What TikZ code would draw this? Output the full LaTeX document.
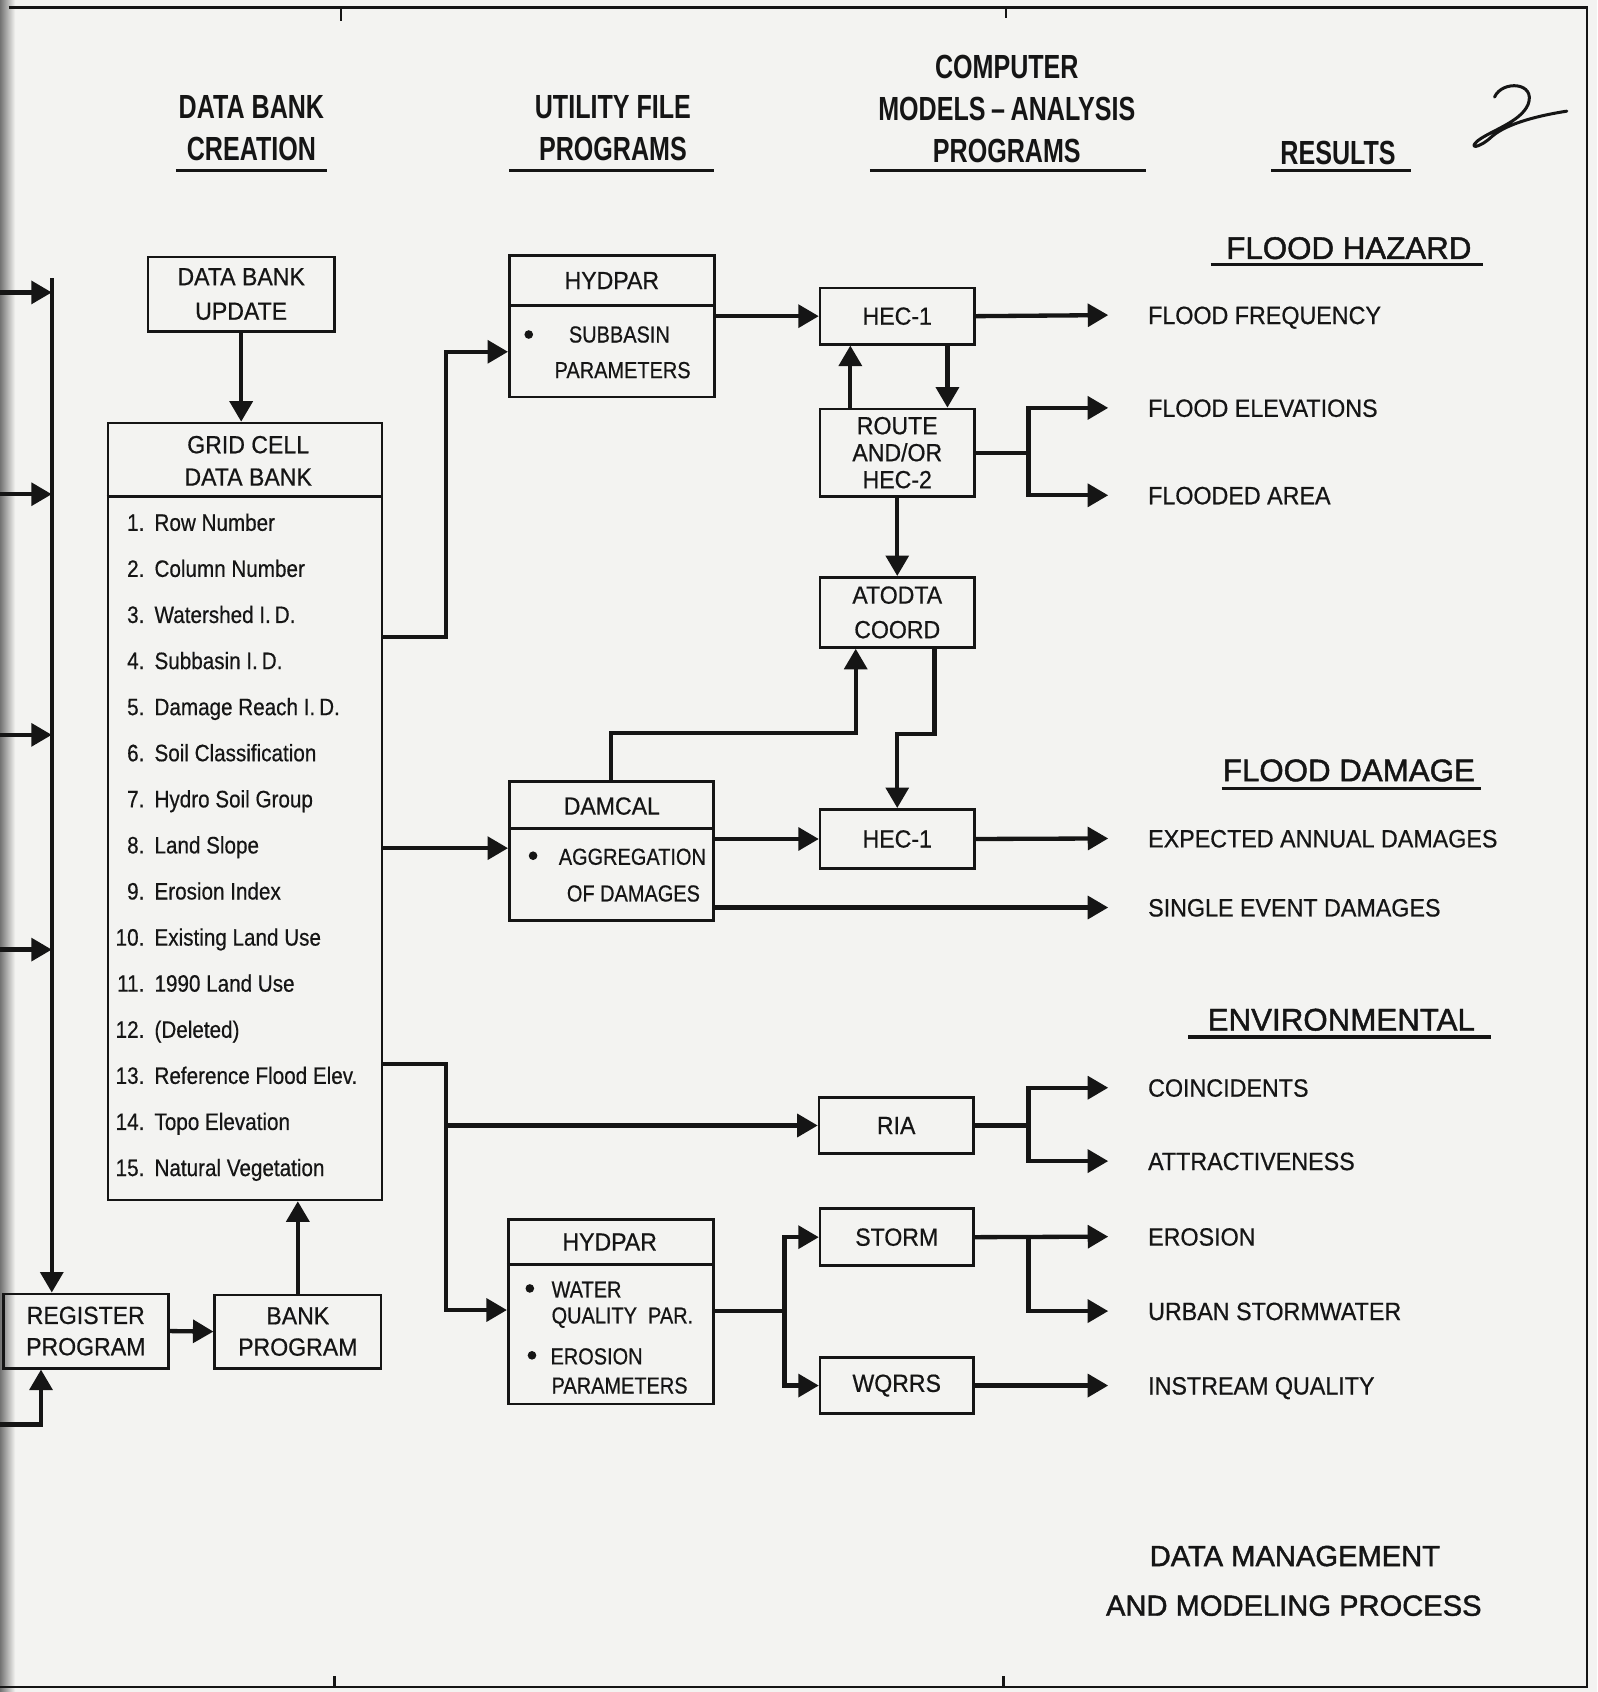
\documentclass[tikz,border=0pt]{standalone}
\usepackage{fontspec}
\setmainfont{Liberation Sans}
\newfontfamily\bodyf[FakeStretch=0.93,FakeBold=0.6]{Liberation Sans}
\newfontfamily\subf[FakeStretch=0.86,FakeBold=0.6]{Liberation Sans}
\newfontfamily\headf[FakeStretch=0.75]{Liberation Sans}
\newfontfamily\listf[FakeStretch=0.87,FakeBold=0.5]{Liberation Sans}
\newfontfamily\secf[FakeBold=1.4]{Liberation Sans}
\usetikzlibrary{arrows.meta}
\definecolor{paper}{HTML}{F3F3F1}
\definecolor{ink}{HTML}{151515}
\tikzset{
  box/.style={draw=ink, line width=2.4pt, inner sep=0pt, align=center, text=ink,
    font=\bodyf\fontsize{23}{32}\selectfont},
  divl/.style={draw=ink, line width=2.4pt},
  conn/.style={draw=ink, line width=4pt},
  arr/.style={conn, -{Triangle[length=19pt,width=21pt]}},
  lbl/.style={inner sep=0pt, text=ink, font=\bodyf\fontsize{23}{30}\selectfont},
  sub/.style={inner sep=0pt, text=ink, font=\subf\fontsize{21.5}{26}\selectfont},
  res/.style={anchor=west, inner sep=0pt, outer xsep=37pt, text height=16.6pt, text depth=0pt,
    text=ink, font=\bodyf\fontsize{23.2}{28}\selectfont},
  hdr/.style={inner sep=0pt, align=center, text=ink, font=\headf\bfseries\fontsize{31}{38.5}\selectfont},
  sec/.style={inner sep=0pt, text=ink, font=\secf\fontsize{29}{34}\selectfont},
  fin/.style={inner sep=0pt, text=ink, font=\secf\fontsize{27}{34}\selectfont},
  num/.style={anchor=base east, inner sep=0pt, text=ink, font=\listf\fontsize{22}{26}\selectfont},
  itm/.style={anchor=base west, inner sep=0pt, text=ink, font=\listf\fontsize{22}{26}\selectfont},
  uline/.style={draw=ink, line width=3pt},
  bdot/.style={circle, fill=ink, inner sep=0pt, minimum size=8pt},
  frame/.style={draw=ink, line width=2pt}
}
\begin{document}
\begin{tikzpicture}[x=1pt,y=-1pt]
\useasboundingbox (0,0) rectangle (1480,1568);
\fill[paper] (0,0) rectangle (1480,1568);
\shade[left color=black!55, right color=paper] (0,0) rectangle (14,1568);

% frame
\draw[frame] (8,7) -- (1471,7) -- (1471,1563) -- (0,1563);
\draw[frame] (316,7) -- (316,19);
\draw[frame] (932,7) -- (932,17);
\draw[frame] (310,1563) -- (310,1553);
\draw[frame] (930,1563) -- (930,1553);

% handwritten mark
\draw[ink, line width=2.8pt, line cap=round, line join=round]
  (1385,90) .. controls (1392,74) and (1424,76) .. (1416,97)
  .. controls (1409,113) and (1382,121) .. (1370,130)
  .. controls (1360,138) and (1370,138) .. (1382,127)
  .. controls (1394,116) and (1420,108) .. (1452,103);

% column headers
\node[hdr] (h1) at (233,119) {DATA BANK\\CREATION};
\node[hdr] (h2) at (568,119) {UTILITY FILE\\PROGRAMS};
\node[hdr] (h3) at (933,101) {COMPUTER\\MODELS\,\textendash\,ANALYSIS\\PROGRAMS};
\node[hdr] (h4) at (1240,142) {RESULTS};
\draw[uline] (163,158) -- (303,158);
\draw[uline] (472,158) -- (662,158);
\draw[uline] (806,158) -- (1062,158);
\draw[uline] (1178,158) -- (1308,158);

% section headers
\node[sec] (fh) at (1250,230) {FLOOD HAZARD};
\draw[uline] (1122,245) -- (1374,245);
\node[sec] (fd) at (1250,714) {FLOOD DAMAGE};
\draw[uline] (1132,731) -- (1372,731);
\node[sec] (env) at (1243,945) {ENVIRONMENTAL};
\draw[uline] (1101,961) -- (1382,961);

% results
\node[res] (ff) at (1027,292) {FLOOD FREQUENCY};
\node[res] (fe) at (1027,378) {FLOOD ELEVATIONS};
\node[res] (fa) at (1027,459) {FLOODED AREA};
\node[res] (ead) at (1027,777) {EXPECTED ANNUAL DAMAGES};
\node[res] (sed) at (1027,841) {SINGLE EVENT DAMAGES};
\node[res] (co) at (1027,1008) {COINCIDENTS};
\node[res] (at) at (1027,1076) {ATTRACTIVENESS};
\node[res] (er) at (1027,1146) {EROSION};
\node[res] (us) at (1027,1215) {URBAN STORMWATER};
\node[res] (iq) at (1027,1284) {INSTREAM QUALITY};

% title
\node[fin] (t1) at (1200,1442) {DATA MANAGEMENT};
\node[fin] (t2) at (1199,1488) {AND MODELING PROCESS};

% data bank creation column
\node[box, minimum width=173pt, minimum height=69pt] (dbu) at (223.5,272.5) {DATA BANK\\UPDATE};
\node[box, minimum width=254pt, minimum height=720pt] (grid) at (227,752) {};
\draw[divl] (grid.west |- 0,460) -- (grid.east |- 0,460);
\node[lbl, align=center] (gh) at (230,427) {GRID CELL\\DATA BANK};
\foreach \n/\t [count=\i from 0] in {1./Row Number, 2./Column Number, 3./Watershed I.\,D., 4./Subbasin I.\,D., 5./Damage Reach I.\,D., 6./Soil Classification, 7./Hydro Soil Group, 8./Land Slope, 9./Erosion Index, 10./Existing Land Use, 11./1990 Land Use, 12./(Deleted), 13./Reference Flood Elev., 14./Topo Elevation, 15./Natural Vegetation} {
  \pgfmathsetmacro\yy{484+\i*42.71+7.9}
  \node[num] (n\i) at (134,\yy) {\n};
  \node[itm] (t\i) at (143,\yy) {\t};
}
\node[box, minimum width=153pt, minimum height=69pt, font=\bodyf\fontsize{23}{29}\selectfont] (reg) at (79.5,1233.5) {REGISTER\\PROGRAM};
\node[box, minimum width=154pt, minimum height=68pt, font=\bodyf\fontsize{23}{29}\selectfont] (bank) at (276,1234) {BANK\\PROGRAM};

% utility file programs
\node[box, minimum width=190pt, minimum height=131pt] (hyd1) at (567,302.5) {};
\draw[divl] (hyd1.west |- 0,283) -- (hyd1.east |- 0,283);
\node[lbl] (hyd1t) at (567,260) {HYDPAR};
\node[bdot] (hyd1d) at (490,310) {};
\node[sub] (hyd1a) at (574,310) {SUBBASIN};
\node[sub] (hyd1b) at (577,343) {PARAMETERS};

\node[box, minimum width=189pt, minimum height=129pt] (damcal) at (566.5,788.5) {};
\draw[divl] (damcal.west |- 0,768) -- (damcal.east |- 0,768);
\node[lbl] (damt) at (567,747) {DAMCAL};
\node[bdot] (damd) at (494,793) {};
\node[sub] (dama) at (586,794) {AGGREGATION};
\node[sub] (damb) at (587,828) {OF DAMAGES};

\node[box, minimum width=190pt, minimum height=171pt] (hyd2) at (566,1215.5) {};
\draw[divl] (hyd2.west |- 0,1172) -- (hyd2.east |- 0,1172);
\node[lbl] (hyd2t) at (565,1151) {HYDPAR};
\node[bdot] (hyd2d1) at (491,1194) {};
\node[sub, anchor=west] (hyd2a) at (511,1195) {WATER};
\node[sub, anchor=west] (hyd2b) at (511,1221) {QUALITY\ \ PAR.};
\node[bdot] (hyd2d2) at (493,1256) {};
\node[sub, anchor=west] (hyd2c) at (510,1257) {EROSION};
\node[sub, anchor=west] (hyd2e) at (511,1284) {PARAMETERS};

% computer models
\node[box, minimum width=143pt, minimum height=52pt] (hec1a) at (831.5,293) {HEC-1};
\node[box, minimum width=143pt, minimum height=81pt, font=\bodyf\fontsize{23}{25}\selectfont] (route) at (831.5,419.5) {ROUTE\\AND/OR\\HEC-2};
\node[box, minimum width=143pt, minimum height=65pt] (atodta) at (831.5,567.5) {ATODTA\\COORD};
\node[box, minimum width=143pt, minimum height=55pt] (hec1b) at (831.5,777.5) {HEC-1};
\node[box, minimum width=143pt, minimum height=52pt] (ria) at (830.5,1043) {RIA};
\node[box, minimum width=142pt, minimum height=53pt] (storm) at (831,1146.5) {STORM};
\node[box, minimum width=142pt, minimum height=52pt] (wqrrs) at (831,1284) {WQRRS};

% connectors
\draw[arr] (dbu.south) -- (dbu.south |- grid.north);
\draw[arr] (grid.east |- 0,590) -- (413,590) |- (hyd1.west |- 0,326);
\draw[arr] (hyd1.east |- hec1a.west) -- (hec1a.west);
\draw[arr] (hec1a.east) -- (ff.west);
\draw[arr] (route.north -| 788,0) -- (hec1a.south -| 788,0);
\draw[arr] (hec1a.south -| 878,0) -- (route.north -| 878,0);
\coordinate (j1) at (route.east -| 953,0);
\draw[conn] (route.east) -- (j1);
\draw[arr] (j1) |- (fe.west);
\draw[arr] (j1) |- (fa.west);
\draw[arr] (route.south) -- (atodta.north);
\draw[arr] (damcal.north) -- (damcal.north |- 0,679) -| (atodta.south -| 793,0);
\draw[arr] (atodta.south -| 866,0) -- (866,680) -| (hec1b.north);
\draw[arr] (grid.east |- 0,786) -- (damcal.west |- 0,786);
\draw[arr] (damcal.east |- hec1b.west) -- (hec1b.west);
\draw[arr] (hec1b.east) -- (ead.west);
\draw[arr] (damcal.east |- sed.west) -- (sed.west);
\coordinate (j2) at (ria.west -| 413,0);
\draw[arr] (grid.east |- 0,986) -- (413,986) |- (hyd2.west |- 0,1214);
\draw[arr] (j2) -- (ria.west);
\coordinate (j3) at (ria.east -| 953,0);
\draw[conn] (ria.east) -- (j3);
\draw[arr] (j3) |- (co.west);
\draw[arr] (j3) |- (at.west);
\coordinate (j4) at (727,1215);
\draw[conn] (hyd2.east |- j4) -- (j4);
\draw[arr] (j4) |- (storm.west);
\draw[arr] (j4) |- (wqrrs.west);
\coordinate (j5) at (storm.east -| 953,0);
\draw[arr] (storm.east) -- (er.west);
\draw[arr] (j5) |- (us.west);
\draw[arr] (wqrrs.east) -- (iq.west);
\draw[arr] (bank.north) -- (bank.north |- grid.south);
\draw[arr] (reg.east) -- (bank.west);

% left bus
\coordinate (bus) at (48,258);
\draw[arr] (bus) -- (bus |- reg.north);
\foreach \y [count=\i] in {271,458,681,880} {
  \coordinate (in\i) at (0,\y);
  \draw[arr] (in\i) -- (in\i -| bus);
}
\coordinate (in5) at (0,1320);
\draw[arr] (in5) -| (reg.south -| 38,0);
\end{tikzpicture}
\end{document}
